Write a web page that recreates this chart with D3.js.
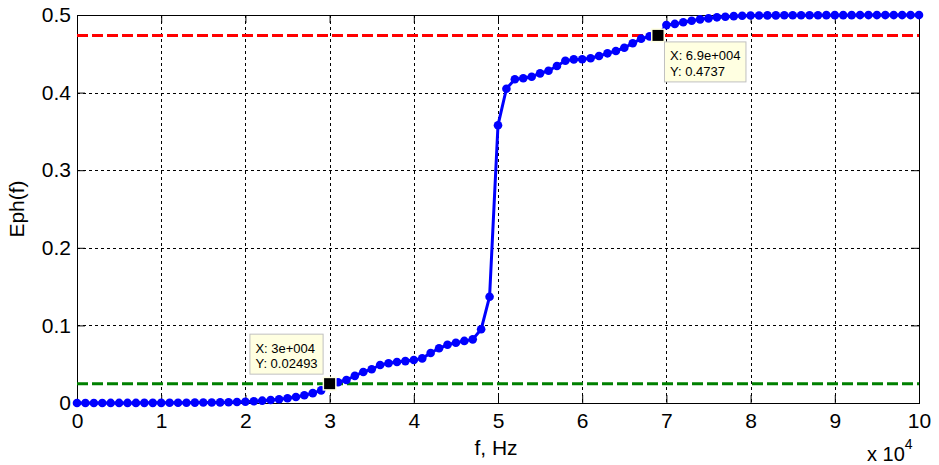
<!DOCTYPE html>
<html>
<head>
<meta charset="utf-8">
<script src="https://cdn.jsdelivr.net/npm/d3@7"></script>
<style>
  html, body { margin: 0; padding: 0; background: #fff; }
  svg { display: block; font-family: "Liberation Sans", Arial, sans-serif; }
</style>
</head>
<body>
<svg id="chart" width="939" height="465"></svg>
<script>
// Frequency in units of 10^4 Hz (step 1000 Hz)
const freq = d3.range(0, 101).map(i => i / 10);
// Eph(f) values
const eph = [
  0.0000, 0.0000, 0.0000, 0.0000, 0.0001, 0.0001, 0.0001, 0.0001, 0.0002, 0.0002,
  0.0002, 0.0003, 0.0003, 0.0004, 0.0005, 0.0006, 0.0007, 0.0008, 0.0010, 0.0013,
  0.0017, 0.0023, 0.0030, 0.0039, 0.0049, 0.0061, 0.0077, 0.0099, 0.0127, 0.0163,
  0.02493, 0.0268, 0.0296, 0.0350, 0.0400, 0.0435, 0.0490, 0.0512, 0.0528, 0.0540,
  0.0554, 0.0575, 0.0645, 0.0705, 0.0750, 0.0777, 0.0800, 0.0820, 0.0950, 0.1370,
  0.3580, 0.4050, 0.4172, 0.4185, 0.4205, 0.4248, 0.4282, 0.4343, 0.4410, 0.4428,
  0.4430, 0.4442, 0.4471, 0.4506, 0.4536, 0.4578, 0.4635, 0.4695, 0.4725, 0.4737,
  0.4870, 0.4885, 0.4906, 0.4926, 0.4944, 0.4957, 0.4970, 0.4978, 0.4985, 0.4990,
  0.4993, 0.4994, 0.4995, 0.4995, 0.4996, 0.4996, 0.4997, 0.4997, 0.4997, 0.4998,
  0.4998, 0.4998, 0.4998, 0.4999, 0.4999, 0.4999, 0.4999, 0.4999, 0.4999, 0.4999,
  0.4999
];
const xTicks = [0, 1, 2, 3, 4, 5, 6, 7, 8, 9, 10];
const yTicks = [0, 0.1, 0.2, 0.3, 0.4, 0.5];
const yTickLabels = ["0", "0.1", "0.2", "0.3", "0.4", "0.5"];
// Threshold lines and data tips
const levelRed = 0.4737;
const levelGreen = 0.02493;
const tipPoints = [
  { x: 3.0, y: 0.02493, l1: "X: 3e+004", l2: "Y: 0.02493", side: "upleft" },
  { x: 6.9, y: 0.4737, l1: "X: 6.9e+004", l2: "Y: 0.4737", side: "downright" }
];

const svg = d3.select("#chart");
const m = { left: 77, top: 15, right: 20, bottom: 62 };
const W = 939 - m.left - m.right; // 842
const H = 465 - m.top - m.bottom; // 388

const x = d3.scaleLinear().domain([0, 10]).range([0, W]);
const y = d3.scaleLinear().domain([0, 0.5]).range([H, 0]);

const g = svg.append("g").attr("transform", `translate(${m.left},${m.top})`);

g.append("rect").attr("width", W).attr("height", H).attr("fill", "#fff");

// Grid
g.append("g").selectAll("line").data(xTicks.slice(1, -1)).join("line")
  .attr("x1", d => Math.round(x(d)) + 0.5).attr("x2", d => Math.round(x(d)) + 0.5)
  .attr("y1", 0).attr("y2", H)
  .attr("stroke", "#000").attr("stroke-width", 1).attr("stroke-dasharray", "3,3");
g.append("g").selectAll("line").data(yTicks.slice(1, -1)).join("line")
  .attr("y1", d => Math.round(y(d)) + 0.5).attr("y2", d => Math.round(y(d)) + 0.5)
  .attr("x1", 0).attr("x2", W)
  .attr("stroke", "#000").attr("stroke-width", 1).attr("stroke-dasharray", "3,3");

// Axes (ticks inside)
const tickLen = 8;
const xAxisB = d3.axisBottom(x).tickValues(xTicks).tickSize(-tickLen).tickPadding(10).tickFormat(d3.format("d"));
const xAxisT = d3.axisTop(x).tickValues(xTicks).tickSize(-tickLen).tickFormat("");
const yAxisL = d3.axisLeft(y).tickValues(yTicks).tickSize(-tickLen).tickPadding(6)
  .tickFormat((d, i) => yTickLabels[i]);
const yAxisR = d3.axisRight(y).tickValues(yTicks).tickSize(-tickLen).tickFormat("");

function styleAxis(sel) {
  sel.select(".domain").remove();
  sel.selectAll("line").attr("stroke", "#000");
  sel.selectAll("text").attr("fill", "#000").style("font-size", "21px")
    .style("font-family", '"Liberation Sans", Arial, sans-serif');
}
g.append("g").attr("transform", `translate(0,${H})`).call(xAxisB).call(styleAxis);
g.append("g").call(xAxisT).call(styleAxis);
g.append("g").call(yAxisL).call(styleAxis);
g.append("g").attr("transform", `translate(${W},0)`).call(yAxisR).call(styleAxis);

g.append("rect").attr("x", 0.5).attr("y", 0.5).attr("width", W).attr("height", H)
  .attr("fill", "none").attr("stroke", "#000").attr("stroke-width", 1);

// Threshold dashed lines
g.append("line").attr("x1", 0).attr("x2", W)
  .attr("y1", y(levelRed)).attr("y2", y(levelRed))
  .attr("stroke", "#ff0000").attr("stroke-width", 3).attr("stroke-dasharray", "11,4");
g.append("line").attr("x1", 0).attr("x2", W)
  .attr("y1", y(levelGreen)).attr("y2", y(levelGreen))
  .attr("stroke", "#008000").attr("stroke-width", 3).attr("stroke-dasharray", "11,4");

// Curve
const pts = freq.map((f, i) => [f, eph[i]]);
g.append("path").datum(pts)
  .attr("fill", "none").attr("stroke", "#0000ff").attr("stroke-width", 3)
  .attr("stroke-linejoin", "round")
  .attr("d", d3.line().x(d => x(d[0])).y(d => y(d[1])));
g.append("g").selectAll("circle").data(pts).join("circle")
  .attr("cx", d => x(d[0])).attr("cy", d => y(d[1])).attr("r", 4.3)
  .attr("fill", "#0000ff");

// Data tips
tipPoints.forEach(t => {
  const mx = x(t.x), my = y(t.y);
  const tg = g.append("g");
  tg.append("rect").attr("x", mx - 7).attr("y", my - 7).attr("width", 14).attr("height", 14)
    .attr("fill", "#ffffe1");
  tg.append("rect").attr("x", mx - 5.5).attr("y", my - 5.5).attr("width", 11).attr("height", 11)
    .attr("fill", "#000");
  const box = tg.append("g");
  const r = box.append("rect").attr("fill", "#ffffe1").attr("stroke", "#c0c0c0").attr("stroke-width", 1);
  const t1 = box.append("text").text(t.l1).attr("x", 5.5).attr("y", 18.5)
    .style("font-size", "13px").attr("fill", "#000");
  const t2 = box.append("text").text(t.l2).attr("x", 5.5).attr("y", 34)
    .style("font-size", "13px").attr("fill", "#000");
  const bw = Math.max(t1.node().getComputedTextLength(), t2.node().getComputedTextLength()) + 11;
  const bh = 40;
  r.attr("width", bw).attr("height", bh);
  let bx, by;
  if (t.side === "upleft") { bx = mx - 7 - bw; by = my - 10 - bh; }
  else { bx = mx + 6; by = my + 6; }
  box.attr("transform", `translate(${bx + 0.5},${by + 0.5})`);
});

// Axis labels
svg.append("text").attr("x", m.left + W / 2 - 2).attr("y", 455)
  .attr("text-anchor", "middle").style("font-size", "21px").attr("fill", "#000")
  .text("f, Hz");
svg.append("text").attr("transform", `translate(24,${m.top + H / 2}) rotate(-90)`)
  .attr("text-anchor", "middle").style("font-size", "21px").attr("fill", "#000")
  .text("Eph(f)");
const exp = svg.append("text").attr("x", 867).attr("y", 461)
  .style("font-size", "20px").attr("fill", "#000");
exp.append("tspan").text("x 10");
exp.append("tspan").attr("dy", -12).style("font-size", "14px").text("4");
</script>
</body>
</html>
